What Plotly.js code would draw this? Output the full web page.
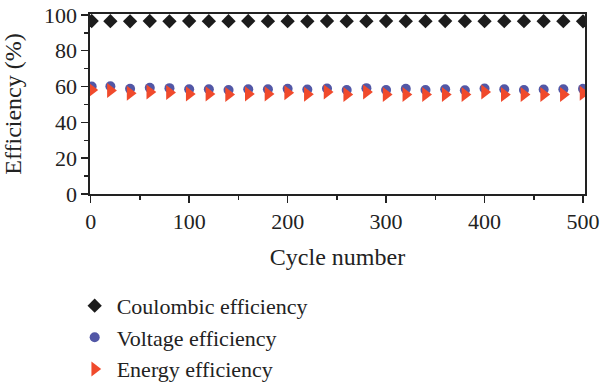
<!DOCTYPE html>
<html>
<head>
<meta charset="utf-8">
<script src="https://cdn.plot.ly/plotly-3.0.1.min.js"></script>
<style>html,body{margin:0;padding:0;background:#fff;}#chart{width:600px;height:385px;}</style>
</head>
<body>
<div id="chart"></div>
<script>
const cycles = [1,20,40,60,80,100,120,140,160,180,200,220,240,260,280,300,320,340,360,380,400,420,440,460,480,500];
const coulombic = [96.6,96.5,96.4,96.6,96.4,96.6,96.5,96.5,96.6,96.5,96.5,96.4,96.6,96.5,96.5,96.6,96.5,96.5,96.6,96.5,96.5,96.5,96.5,96.5,96.5,96.4];
const voltage = [60.0,60.2,58.7,59.3,59.1,58.5,58.5,58.1,58.5,58.5,58.7,58.3,58.9,58.1,59.1,58.1,58.7,58.1,58.5,57.9,58.9,58.5,58.1,58.3,58.5,58.7];
const energy = [58.1,57.8,56.3,56.9,56.7,55.9,55.9,55.6,55.9,55.9,56.5,55.7,56.9,55.5,56.9,55.6,55.5,55.5,55.6,55.5,56.9,55.5,55.5,55.6,55.6,56.3];
const seriesNames = ["Coulombic efficiency","Voltage efficiency","Energy efficiency"];
const yTicks = [0,20,40,60,80,100];
const xTicks = [0,100,200,300,400,500];

const font = "Liberation Serif, Times New Roman, serif";
const traces = [
  {x:cycles,y:coulombic,name:seriesNames[0],mode:"markers",type:"scatter",
   marker:{symbol:"diamond",size:11,color:"#1c1c1c"}},
  {x:cycles,y:voltage,name:seriesNames[1],mode:"markers",type:"scatter",
   marker:{symbol:"circle",size:10,color:"#5257a6"}},
  {x:cycles,y:energy,name:seriesNames[2],mode:"markers",type:"scatter",
   marker:{symbol:"triangle-right",size:13,color:"#f04a2c"}}
];
const axisCommon = {
  showline:true, linecolor:"#222", linewidth:1.6, mirror:true,
  ticks:"outside", ticklen:7, tickwidth:1.5, tickcolor:"#222",
  showgrid:false, zeroline:false, automargin:false,
  tickfont:{family:font,size:22,color:"#222"}
};
const layout = {
  width:600, height:385,
  margin:{l:90,r:15,t:14,b:191,autoexpand:false},
  paper_bgcolor:"#fff", plot_bgcolor:"#fff",
  font:{family:font,color:"#222"},
  showlegend:true,
  legend:{orientation:"v",x:-0.035,xanchor:"left",y:-0.505,yanchor:"top",
          font:{family:font,size:22,color:"#222"},
          bgcolor:"rgba(0,0,0,0)",itemwidth:34},
  xaxis:Object.assign({},axisCommon,{
    range:[-0.7,502], tickvals:xTicks, ticktext:xTicks.map(String),
    ticklabelstandoff:0,
    minor:{dtick:50,tick0:0,ticks:"outside",ticklen:4,tickwidth:1.5,tickcolor:"#222"},
    title:{text:"Cycle number",font:{family:font,size:24,color:"#222"},standoff:15}
  }),
  yaxis:Object.assign({},axisCommon,{
    range:[0,100.5], tickvals:yTicks, ticktext:yTicks.map(String),
    minor:{dtick:10,tick0:0,ticks:"outside",ticklen:4,tickwidth:1.5,tickcolor:"#222"},
    title:{text:"Efficiency (%)",font:{family:font,size:24,color:"#222"},standoff:15}
  })
};
Plotly.newPlot("chart",traces,layout,{displayModeBar:false,staticPlot:true});
</script>
</body>
</html>
